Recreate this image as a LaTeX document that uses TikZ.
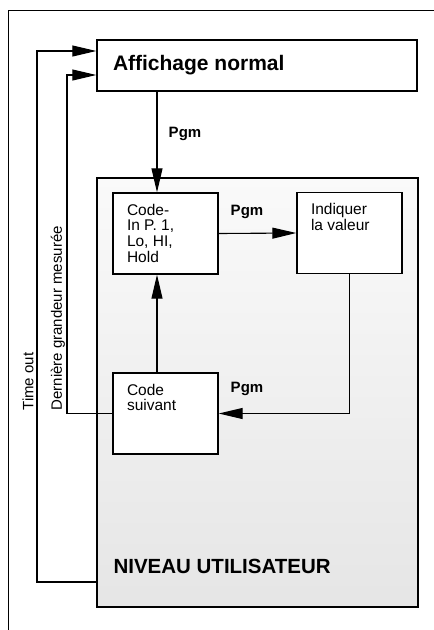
\documentclass[tikz,border=0pt]{standalone}
\usepackage{fontspec}
\setmainfont{Liberation Sans}
\usetikzlibrary{arrows.meta}
\begin{document}
\begin{tikzpicture}[x=1pt,y=-1pt,
  line width=1.1pt,
  arr/.style={-{Triangle[length=24pt,width=11pt]}},
  blk/.style={draw, fill=white, line width=1.4pt, inner sep=0pt,
    minimum width=105pt, minimum height=81pt,
    font=\fontsize{15.5}{15.7}\selectfont},
  pgm/.style={font=\fontsize{15}{15}\selectfont\bfseries, inner sep=0pt},
  side/.style={rotate=90, anchor=west, inner sep=0pt,
    font=\fontsize{15}{15}\selectfont}]
\useasboundingbox (0,0) rectangle (434,630);
% frame
\draw[line width=1pt] (8,630) -- (8,10) -- (434,10);
% user level box
\node[draw, line width=1.4pt, top color=black!2, bottom color=black!10,
  minimum width=321pt, minimum height=429pt, inner sep=0pt] (niv) at (257.5,392.5) {};
\node[anchor=base west, inner sep=0pt, font=\fontsize{20.5}{21}\selectfont\bfseries]
  (nivlbl) at (113,573) {NIVEAU UTILISATEUR};
% normal display
\node[draw, fill=white, line width=1.4pt, minimum width=320pt, minimum height=51pt,
  inner sep=0pt] (aff) at (257,65.5)
  {\parbox{288pt}{\fontsize{21}{21}\selectfont\bfseries Affichage normal}};
% inner boxes
\node[blk] (code) at (165.5,233.5)
  {\parbox[c][59pt][t]{77pt}{\raggedright Code-\\In P. 1,\\Lo, HI,\\Hold}};
\node[blk] (ind) at (349.5,233)
  {\parbox[c][59pt][t]{77pt}{\raggedright Indiquer\\la valeur}};
\node[blk] (suiv) at (165.5,413.5)
  {\parbox[c][59pt][t]{77pt}{\raggedright Code\\suivant}};
% labels
\node[pgm] (p1) at (185,134) {Pgm};
\node[pgm] (p2) at (247,212) {Pgm};
\node[pgm] (p3) at (247,389) {Pgm};
\node[side] (dgm) at (58,411) {Dernière grandeur mesurée};
\node[side] (tout) at (28,411) {Time out};
% helper coordinates
\coordinate (cx) at (157,0);
\coordinate (d1) at (67,75);
\coordinate (t1) at (37,51);
\coordinate (ty) at (0,582);
% connectors
\draw[arr] (aff.south -| cx) -- (code.north -| cx);
\draw[arr] (code.east) -- (ind.west);
\draw[arr] (ind.south) |- (suiv.east);
\draw[arr] (suiv.north -| cx) -- (code.south -| cx);
\draw[arr] (suiv.west) -| (d1) -- (aff.west |- d1);
\draw[arr] (niv.west |- ty) -| (t1) -- (aff.west |- t1);
\end{tikzpicture}
\end{document}
